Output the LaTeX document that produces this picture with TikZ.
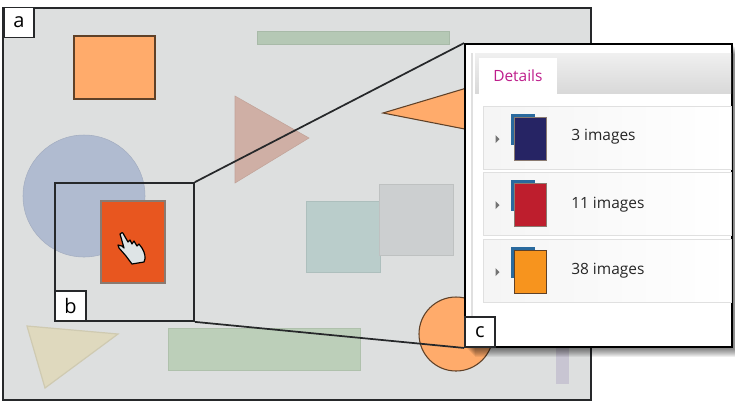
\documentclass[tikz,border=0pt]{standalone}
\usepackage{fontspec}
\setmainfont{Open Sans}
\usetikzlibrary{positioning}
\definecolor{canvasGray}{RGB}{221,223,223}
\definecolor{frameDark}{RGB}{38,40,42}
\definecolor{shapeOrange}{RGB}{255,171,107}
\definecolor{edgeBrown}{RGB}{95,65,40}
\definecolor{barGreen}{RGB}{181,200,181}
\definecolor{triPink}{RGB}{207,175,165}
\definecolor{discBlue}{RGB}{176,187,208}
\definecolor{squareTeal}{RGB}{186,205,203}
\definecolor{squareGray}{RGB}{204,207,208}
\definecolor{triSand}{RGB}{223,217,190}
\definecolor{rectGreen}{RGB}{188,207,185}
\definecolor{barLilac}{RGB}{200,197,210}
\definecolor{selectRed}{RGB}{232,86,31}
\definecolor{selectEdge}{RGB}{138,122,112}
\definecolor{handFill}{RGB}{222,228,230}
\definecolor{detailsPink}{RGB}{190,30,140}
\definecolor{backBlue}{RGB}{42,106,158}
\definecolor{cardNavy}{RGB}{38,36,100}
\definecolor{cardRed}{RGB}{190,30,45}
\definecolor{cardOrange}{RGB}{247,148,30}
\tikzset{
  letterbox/.style={draw=frameDark, fill=white, line width=1.3pt, inner sep=0pt, minimum width=23pt, minimum height=22.5pt, font=\fontsize{15}{15}\selectfont},
  faded/.style={draw=#1!93!black, fill=#1},
  rowbox/.style={draw=black!12, left color=black!4, right color=white, line width=0.6pt},
  rowtext/.style={anchor=west, inner sep=0pt, font=\fontsize{11.6}{13}\selectfont, text=black!85},
  rowmark/.style={fill=black!55},
  backcard/.style={fill=backBlue},
}
\begin{document}
\begin{tikzpicture}[x=0.75pt,y=-0.75pt]
  \useasboundingbox[fill=white] (0,0) rectangle (735,405);
  % Canvas with faded shapes
  \draw[frameDark, fill=canvasGray, line width=1.2pt] (3,8) rectangle (591,400);
  \draw[edgeBrown, fill=shapeOrange, line width=0.9pt] (74,36) rectangle (155,99);
  \draw[faded=barGreen] (257,31) rectangle (449,44);
  \draw[faded=triPink] (235,96) -- (309,138) -- (235,183) -- cycle;
  \draw[edgeBrown, fill=shapeOrange, line width=0.8pt] (383,113) -- (480,84) -- (480,132) -- cycle;
  \draw[faded=discBlue] (84,196) circle (61);
  \draw[faded=squareTeal] (306,201) rectangle (380,272);
  \draw[faded=squareGray] (379,184) rectangle (453,255);
  \draw[faded=triSand, line width=0.9pt] (27,326) -- (118,334) -- (45,388) -- cycle;
  \draw[faded=rectGreen] (168,328) rectangle (360,370);
  \draw[edgeBrown, fill=shapeOrange, line width=0.8pt] (456,334) circle (37);
  \fill[barLilac] (556,340) rectangle (569,384);
  % Selected shape and cursor
  \draw[selectEdge, fill=selectRed, line width=1.4pt] (101,201) rectangle (165,283);
  \draw[black, fill=handFill, line width=0.9pt, line join=round]
    (120,234) .. controls (121,232) and (123,232) .. (124,235) -- (128,242)
    -- (130,240) -- (132,244) -- (134,241) -- (137,246) -- (139,244) -- (142,248)
    .. controls (145,253) and (146,258) .. (144,262)
    -- (132,264) -- (126,256) -- (119,248) -- (118,245) -- (122,246) -- (124,248) -- cycle;
  % Zoomed region and its letter boxes
  \node[draw=frameDark, line width=1.3pt, inner sep=0pt, minimum width=104.25pt, minimum height=103.5pt] (zoomArea) at (124.5,252) {};
  \node[letterbox] (labelA) at (19,22.5) {a};
  \node[letterbox] (labelB) at (70.5,306) {b};
  % Shadow of panel
  \foreach \d in {1,2,...,10}
    \fill[black, opacity=0.065] (465+\d,44+\d) rectangle (732+\d,347+\d);
  % Details panel
  \node[draw=black, fill=white, line width=1.4pt, inner sep=0pt, minimum width=200.25pt, minimum height=227.25pt] (panel) at (598.5,195.5) {};
  \draw[frameDark, line width=1.3pt] (zoomArea.north east) -- (panel.north west);
  \draw[frameDark, line width=1.3pt] (zoomArea.south east) -- (panel.south west);
  \draw[black!12, line width=0.8pt] (472,53) -- (472,317);
  \fill[top color=black!6, bottom color=black!15] (475,53) rectangle (731,93);
  \fill[white] (479,58) rectangle (557,94);
  \node[anchor=west, inner sep=0pt, text=detailsPink, font=\fontsize{11.6}{13}\selectfont] (tabDetails) at (493,76) {Details};
  % Rows
  \foreach \y/\col/\edge/\txt/\ty in {106/cardNavy/selectEdge/3 images/31,
                                  172/cardRed/selectEdge/11 images/33,
                                  239/cardOrange/edgeBrown/38 images/32} {
    \draw[rowbox] (483,\y) rectangle (731,\y+63);
    \fill[rowmark] (495.5,\y+29) -- (499.5,\y+33) -- (495.5,\y+37) -- cycle;
    \fill[backcard] (511,\y+8) rectangle (535,\y+39);
    \draw[\edge, fill=\col, line width=0.6pt] (514,\y+11) rectangle (546,\y+54);
    \node[rowtext] at (571,\y+\ty) {\txt};
  }
  \node[letterbox] (labelC) at (480,332) {c};
\end{tikzpicture}
\end{document}
